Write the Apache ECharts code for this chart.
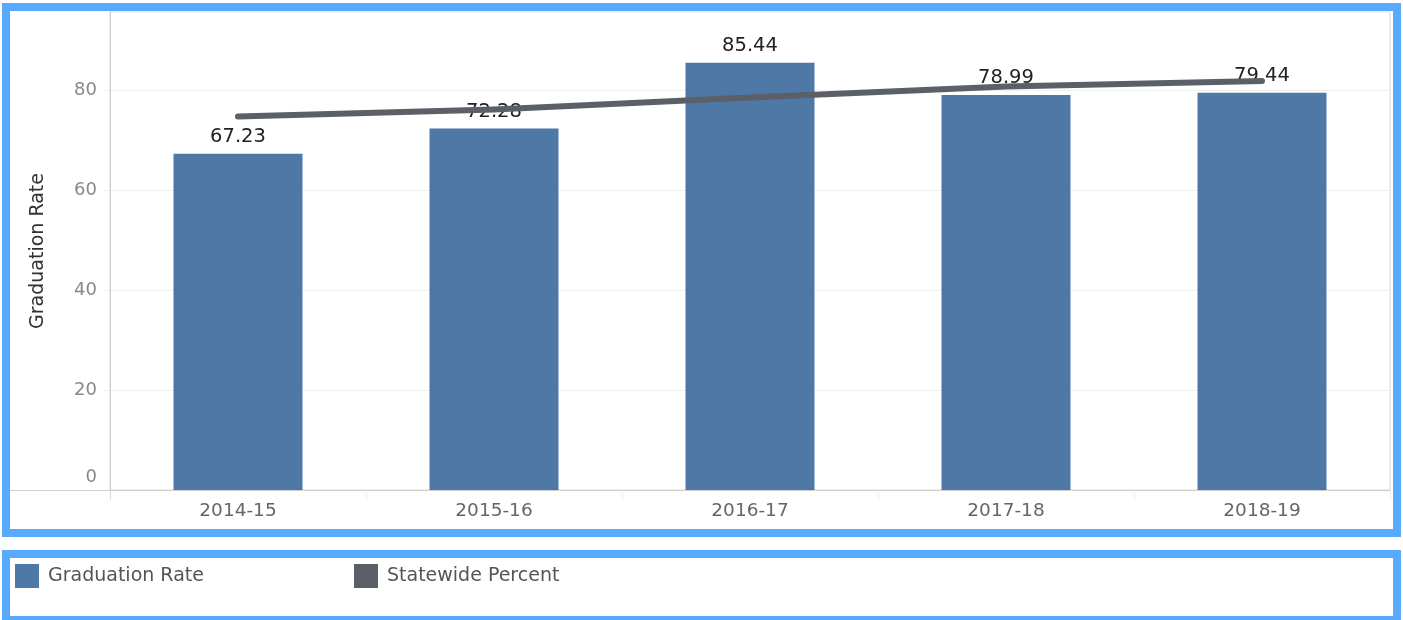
<!DOCTYPE html>
<html>
<head>
<meta charset="utf-8">
<script src="https://cdn.jsdelivr.net/npm/echarts@6/dist/echarts.min.js"></script>
<style>
  html, body { margin: 0; padding: 0; width: 1403px; height: 620px; overflow: hidden; background: #fff; }
  .frame { position: absolute; box-sizing: border-box; border: 8px solid #59a9fd; background: #fff; }
  #chart { position: absolute; left: 0; top: 0; width: 1403px; height: 620px; }
</style>
</head>
<body>
<div class="frame" style="left:2px; top:3px; width:1399px; height:534px;"></div>
<div class="frame" style="left:2px; top:550px; width:1399px; height:74px;"></div>
<div id="chart"></div>
<script>
const categories = ['2014-15', '2015-16', '2016-17', '2017-18', '2018-19'];
const graduationRate = [67.23, 72.28, 85.44, 78.99, 79.44];
const statewidePercent = [74.7, 76.1, 78.5, 80.7, 81.8];
const yTicks = [0, 20, 40, 60, 80];

const FONT = 'DejaVu Sans';
const legendText = { fontSize: 19, color: '#555', fontFamily: FONT, padding: [0, 0, 0, 4] };
const chart = echarts.init(document.getElementById('chart'), null, { renderer: 'canvas' });
chart.setOption({
  backgroundColor: 'transparent',
  animation: false,
  textStyle: { fontFamily: FONT },
  grid: {
    left: 110, right: 13, top: 12, bottom: 130,
    show: true, borderColor: '#d9d9d9', borderWidth: 1, backgroundColor: 'transparent'
  },
  legend: [
    {
      left: 15, top: 564, padding: 0, itemWidth: 24, itemHeight: 24, icon: 'rect',
      textStyle: legendText, data: ['Graduation Rate']
    },
    {
      left: 354, top: 564, padding: 0, itemWidth: 24, itemHeight: 24, icon: 'rect',
      textStyle: legendText, data: ['Statewide Percent']
    }
  ],
  xAxis: {
    type: 'category',
    data: categories,
    axisLine: { show: true, lineStyle: { color: '#cfcfcf', width: 1 } },
    axisTick: { show: true, length: 10, lineStyle: { color: '#ececec' } },
    axisLabel: { fontSize: 18.5, color: '#666', margin: 12, fontFamily: FONT },
    splitLine: { show: false }
  },
  yAxis: {
    type: 'value',
    min: 0, max: 95.6, interval: 20,
    name: 'Graduation Rate',
    nameLocation: 'middle',
    nameGap: 62,
    nameTextStyle: { fontSize: 19, color: '#333', fontFamily: FONT },
    axisLine: { show: true, lineStyle: { color: '#cfcfcf', width: 1 } },
    axisTick: { show: true, length: 7, lineStyle: { color: '#ececec' } },
    axisLabel: {
      fontSize: 18, color: '#888', margin: 13, fontFamily: FONT,
      showMaxLabel: false,
      verticalAlignMinLabel: 'bottom',
      formatter: function (v) { return yTicks.indexOf(v) >= 0 ? (v === 0 ? '{z|0}' : String(v)) : ''; },
      rich: { z: { fontSize: 18, color: '#888', fontFamily: FONT, padding: [0, 0, 4, 0] } }
    },
    splitLine: { show: true, lineStyle: { color: '#f0f0f0', width: 1 } }
  },
  graphic: [
    { type: 'line', shape: { x1: 10, y1: 490.5, x2: 110, y2: 490.5 }, style: { stroke: '#cfcfcf', lineWidth: 1 }, z: 10 },
    { type: 'line', shape: { x1: 110.5, y1: 490, x2: 110.5, y2: 500 }, style: { stroke: '#dcdcdc', lineWidth: 1 }, z: 10 }
  ],
  series: [
    {
      name: 'Graduation Rate',
      type: 'bar',
      data: graduationRate,
      barWidth: 129,
      itemStyle: { color: '#4e79a7' },
      label: {
        show: true, position: 'top', distance: 7,
        fontSize: 19.5, color: '#222', fontFamily: FONT,
        formatter: function (p) { return p.value.toFixed(2); }
      },
      z: 2
    },
    {
      name: 'Statewide Percent',
      type: 'line',
      data: statewidePercent,
      symbol: 'none',
      showSymbol: false,
      lineStyle: { color: '#5b5f67', width: 6, cap: 'round', join: 'round' },
      itemStyle: { color: '#5b5f67' },
      z: 3
    }
  ]
});
</script>
</body>
</html>
